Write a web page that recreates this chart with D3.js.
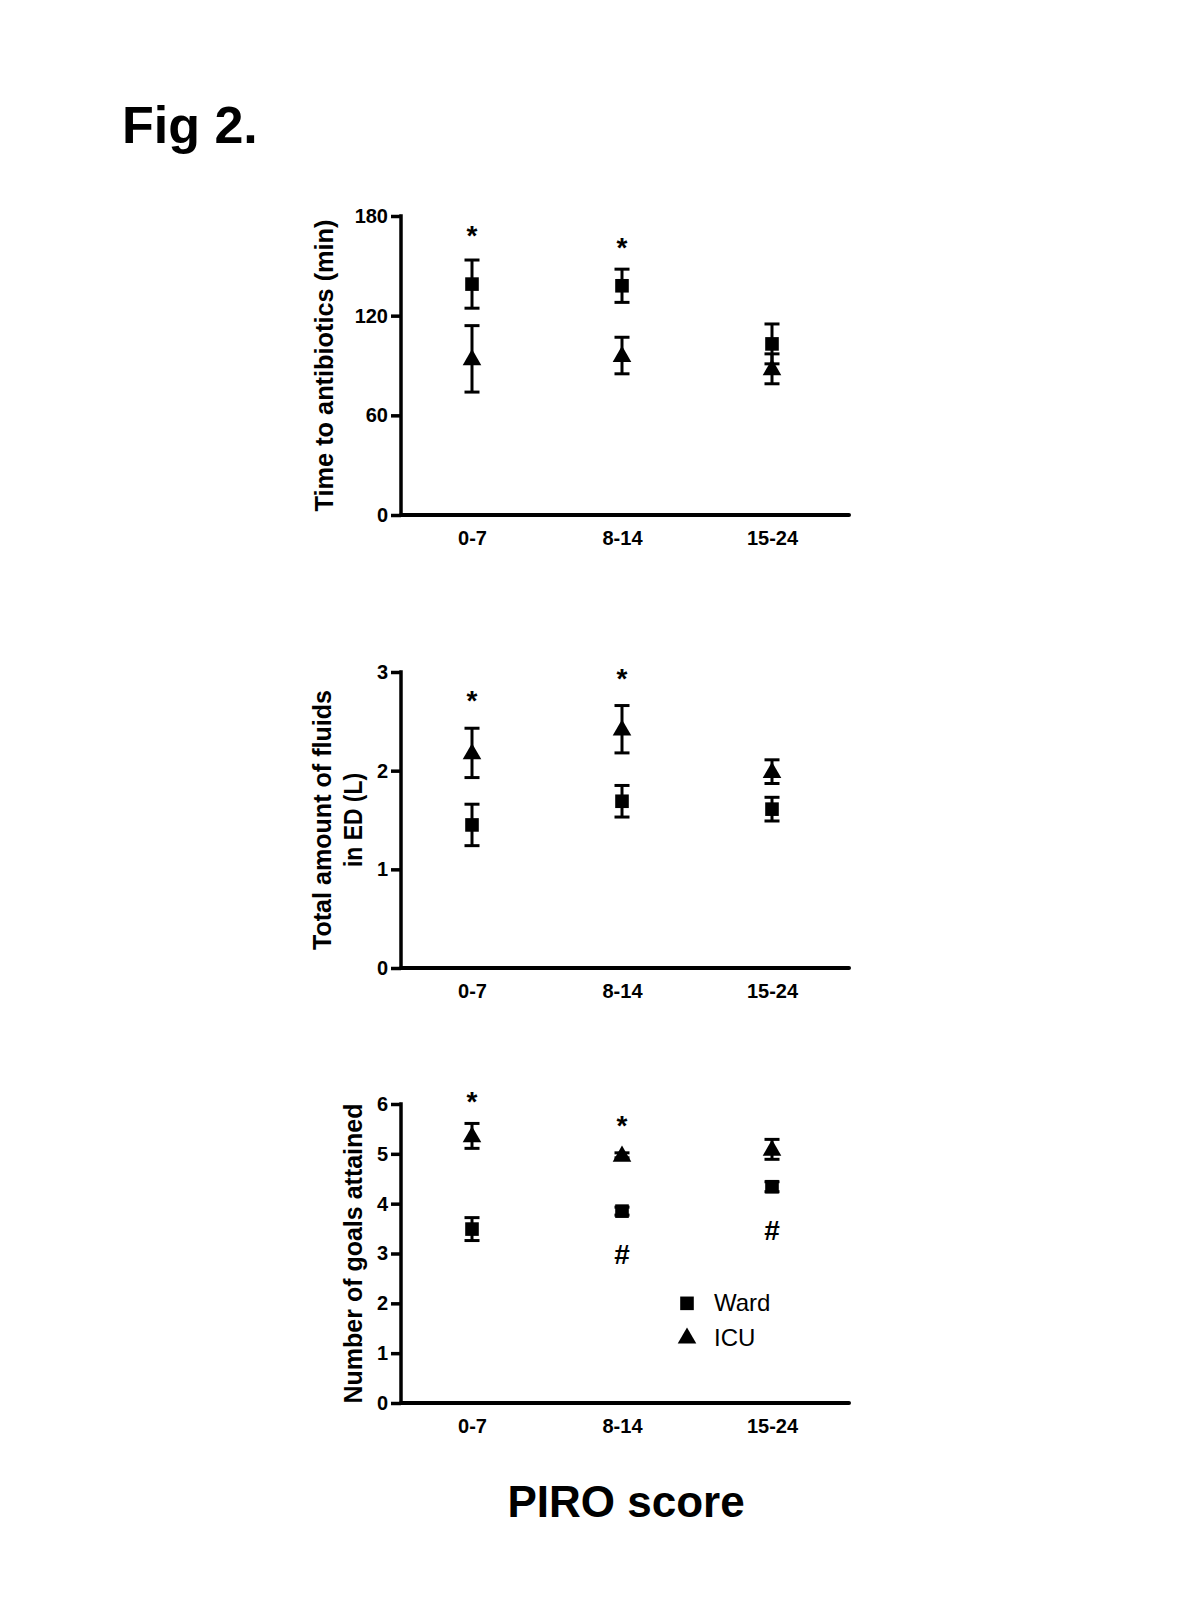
<!DOCTYPE html>
<style>
	body { margin: 0; background: #fff; }
	svg text { font-family: "Liberation Sans", Arial, sans-serif; fill: #000; }
	.tick text { font-size: 20px; font-weight: bold; }
	.ylab { font-size: 25px; font-weight: bold; }
	.mark { font-size: 28px; font-weight: bold; }
</style>
<head>
	<script src="https://cdn.jsdelivr.net/npm/d3@7"></script>
</head>
<body>
	<svg width="1200" height="1600"></svg>
</body>
<script>
var categories = ["0-7", "8-14", "15-24"];

// time to antibiotics (min), mean and SEM
var abxWard = [139, 138, 103], abxWardErr = [14.5, 10, 12];
var abxIcu = [94, 96, 88], abxIcuErr = [20, 11, 9];
// total fluids in ED (L)
var fluWard = [1.45, 1.69, 1.61], fluWardErr = [0.21, 0.16, 0.12];
var fluIcu = [2.18, 2.42, 1.99], fluIcuErr = [0.25, 0.24, 0.12];
// number of goals attained
var goalWard = [3.49, 3.85, 4.34], goalWardErr = [0.23, 0.08, 0.1];
var goalIcu = [5.36, 4.97, 5.09], goalIcuErr = [0.25, 0.05, 0.2];

// significance marks: [category, value, symbol]
var abxMarks = [["0-7", 172, "*"], ["8-14", 165, "*"]];
var fluMarks = [["0-7", 2.78, "*"], ["8-14", 3.0, "*"]];
var goalMarks = [["0-7", 6.18, "*"], ["8-14", 5.7, "*"], ["8-14", 2.99, "#"], ["15-24", 3.47, "#"]];

var abxTicks = [0, 60, 120, 180], fluTicks = [0, 1, 2, 3], goalTicks = [0, 1, 2, 3, 4, 5, 6];

var svg = d3.select("svg");
var x0 = 401, x1 = 849;
var x = d3.scalePoint().domain(categories).range([472, 772]);

var sq = d3.symbol().type(d3.symbolSquare).size(185);
var tri = d3.symbol().type(d3.symbolTriangle).size(150);

function panel(opt) {
	var y = d3.scaleLinear().domain(opt.domain).range([opt.bottom, opt.top]);
	var g = svg.append("g");

	g.append("g")
		.attr("transform", "translate(" + x0 + ",0)")
		.call(d3.axisLeft(y).tickValues(opt.ticks).tickFormat(d3.format("d"))
			.tickSizeInner(10).tickSizeOuter(0).tickPadding(3))
		.call(function(a) {
			a.select(".domain").remove();
			a.selectAll(".tick line").attr("stroke", "#000").attr("stroke-width", 3.5);
		});

	g.append("line").attr("x1", x0).attr("x2", x0)
		.attr("y1", y(opt.domain[1]) - 1.75).attr("y2", y(0) + 1.75)
		.attr("stroke", "#000").attr("stroke-width", 3.5);
	g.append("line").attr("x1", x0).attr("x2", x1)
		.attr("y1", y(0)).attr("y2", y(0))
		.attr("stroke", "#000").attr("stroke-width", 4)
		.attr("stroke-linecap", "round");

	g.append("g")
		.attr("transform", "translate(0," + (y(0) + 10) + ")")
		.call(d3.axisBottom(x).tickSize(0).tickPadding(6))
		.call(function(a) { a.select(".domain").remove(); });

	var series = [
		{ v: opt.ward, e: opt.wardErr, sym: sq },
		{ v: opt.icu, e: opt.icuErr, sym: tri }
	];
	series.forEach(function(s) {
		var gs = g.append("g").selectAll("g")
			.data(categories).enter().append("g")
			.attr("transform", function(d) { return "translate(" + x(d) + ",0)"; });
		gs.append("line")
			.attr("y1", function(d, i) { return y(s.v[i] + s.e[i]); })
			.attr("y2", function(d, i) { return y(s.v[i] - s.e[i]); })
			.attr("stroke", "#000").attr("stroke-width", 3);
		[1, -1].forEach(function(sign) {
			gs.append("line")
				.attr("x1", -7.5).attr("x2", 7.5)
				.attr("y1", function(d, i) { return y(s.v[i] + sign * s.e[i]); })
				.attr("y2", function(d, i) { return y(s.v[i] + sign * s.e[i]); })
				.attr("stroke", "#000").attr("stroke-width", 3);
		});
		gs.append("path")
			.attr("d", s.sym)
			.attr("transform", function(d, i) {
				return "translate(0," + (y(s.v[i]) + (s.sym === tri ? 1 : 0)) + ")";
			});
	});

	g.selectAll(".mark").data(opt.marks).enter().append("text")
		.attr("class", "mark")
		.attr("text-anchor", "middle")
		.attr("x", function(d) { return x(d[0]); })
		.attr("y", function(d) { return y(d[1]) + (d[2] === "*" ? 16 : 10); })
		.text(function(d) { return d[2]; });

	opt.label.forEach(function(l) {
		g.append("text")
			.attr("class", "ylab")
			.attr("text-anchor", "middle")
			.attr("dy", "0.35em")
			.attr("textLength", l[2])
			.attr("lengthAdjust", "spacingAndGlyphs")
			.attr("transform", "translate(" + l[0] + "," + (opt.top + opt.bottom) / 2 + ") rotate(-90)")
			.text(l[1]);
	});
	return y;
}

panel({ domain: [0, 180], ticks: abxTicks, top: 216, bottom: 515,
	ward: abxWard, wardErr: abxWardErr, icu: abxIcu, icuErr: abxIcuErr,
	marks: abxMarks, label: [[324, "Time to antibiotics (min)", 292]] });

panel({ domain: [0, 3], ticks: fluTicks, top: 672, bottom: 968,
	ward: fluWard, wardErr: fluWardErr, icu: fluIcu, icuErr: fluIcuErr,
	marks: fluMarks, label: [[322, "Total amount of fluids", 260], [353, "in ED (L)", 94]] });

var y3 = panel({ domain: [0, 6], ticks: goalTicks, top: 1104, bottom: 1403,
	ward: goalWard, wardErr: goalWardErr, icu: goalIcu, icuErr: goalIcuErr,
	marks: goalMarks, label: [[353, "Number of goals attained", 300]] });

// legend
var legend = [["Ward", sq, 2.0], ["ICU", tri, 1.3]];
legend.forEach(function(l) {
	svg.append("path").attr("d", l[1])
		.attr("transform", "translate(687," + y3(l[2]) + ")");
	svg.append("text").attr("x", 714).attr("y", y3(l[2]) + 8)
		.style("font-size", "24px").text(l[0]);
});

svg.append("text").attr("x", 122).attr("y", 143)
	.style("font-size", "52px").style("font-weight", "bold").text("Fig 2.");
svg.append("text").attr("x", 626).attr("y", 1517).attr("text-anchor", "middle")
	.style("font-size", "44px").style("font-weight", "bold").text("PIRO score");
</script>
